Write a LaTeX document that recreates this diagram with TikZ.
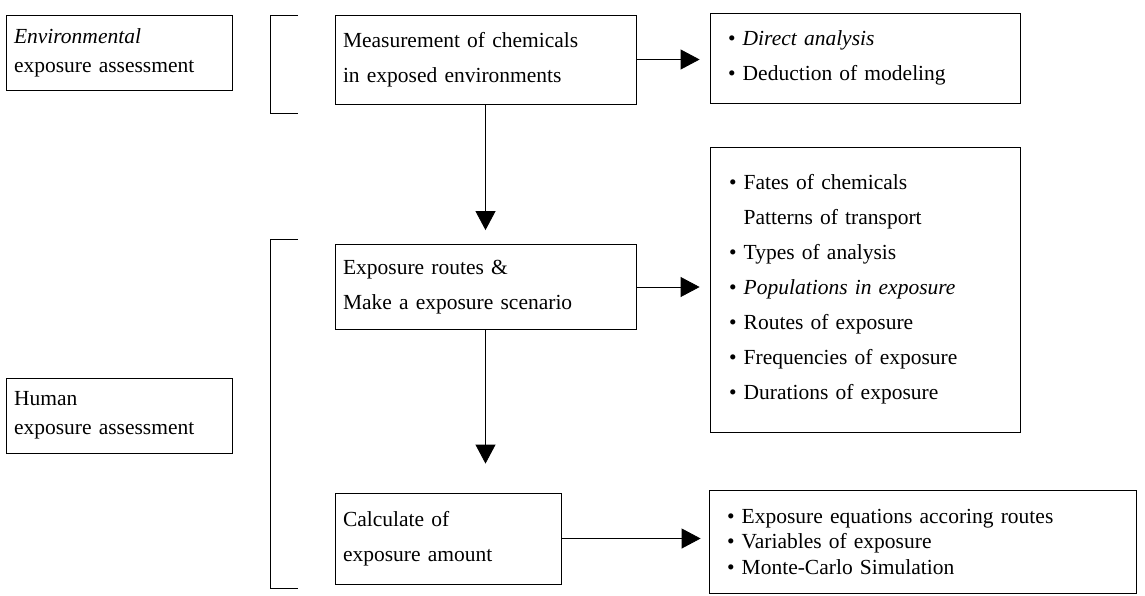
\documentclass[tikz,border=0pt]{standalone}
\usepackage{fontspec}
\setmainfont{Liberation Serif}
\usetikzlibrary{arrows.meta}
\tikzset{
  box/.style={draw, line width=0.8pt, align=left, inner ysep=0pt, anchor=center},
  txt/.style={font=\fontsize{21.5}{35}\selectfont},
  txtl/.style={font=\fontsize{21.5}{29}\selectfont},
  txts/.style={font=\fontsize{21.5}{25.5}\selectfont},
  arr/.style={line width=0.8pt, -{Triangle[length=19pt,width=20pt]}},
  brk/.style={line width=0.8pt},
}
\newcommand{\bl}{\textbullet\ }
\newcommand{\bs}{\phantom{\textbullet\ }}
\begin{document}
\begin{tikzpicture}[x=1pt,y=-1pt]
\useasboundingbox (0,0) rectangle (1145,595);
% left boxes
\node[box, txtl, minimum width=226, minimum height=75, inner xsep=8, text width=210] (env) at (119,52.5)
  {\textit{Environmental}\\exposure assessment};
\node[box, txtl, minimum width=226, minimum height=75, inner xsep=8, text width=210] (human) at (119,415.5)
  {Human\\exposure assessment};
% brackets
\coordinate (b1t) at (270,15); \coordinate (b1b) at (270,113);
\coordinate (b2t) at (270,239); \coordinate (b2b) at (270,588);
\draw[brk] ([xshift=28]b1t) -- (b1t) -- (b1b) -- ([xshift=28]b1b);
\draw[brk] ([xshift=28]b2t) -- (b2t) -- (b2b) -- ([xshift=28]b2b);
% middle boxes
\node[box, txt, minimum width=301, minimum height=89, inner xsep=8, text width=285] (meas) at (485.5,59.5)
  {Measurement of chemicals\\in exposed environments};
\node[box, txt, minimum width=301, minimum height=85, inner xsep=8, text width=285] (routes) at (485.5,287)
  {Exposure routes \&\\Make a exposure scenario};
\node[box, txt, minimum width=226, minimum height=91, inner xsep=8, text width=210] (calc) at (448,538.5)
  {Calculate of\\exposure amount};
% right boxes
\node[box, txt, minimum width=310, minimum height=90, inner xsep=18, text width=274] (r1) at (865,58)
  {\bl\textit{Direct analysis}\\\bl Deduction of modeling};
\node[box, txt, minimum width=310, minimum height=285, inner xsep=19, text width=272] (r2) at (865,289.5)
  {\bl Fates of chemicals\\\bs Patterns of transport\\\bl Types of analysis\\\bl\textit{Populations in exposure}\\\bl Routes of exposure\\\bl Frequencies of exposure\\\bl Durations of exposure};
\node[box, txts, minimum width=427, minimum height=103, inner xsep=18, text width=391] (r3) at (922.5,541.5)
  {\bl Exposure equations accoring routes\\\bl Variables of exposure\\\bl Monte-Carlo Simulation};
% connectors
\draw[arr, shorten >=10pt] (meas.east) -- (meas.east -| r1.west);
\draw[arr, shorten >=10pt] (routes.east) -- (routes.east -| r2.west);
\draw[arr, shorten >=8pt] (calc.east) -- (calc.east -| r3.west);
\draw[arr, shorten >=14pt] (meas.south) -- (routes.north);
\draw[arr, shorten >=29pt] (routes.south) -- (routes.south |- calc.north);
\end{tikzpicture}
\end{document}
